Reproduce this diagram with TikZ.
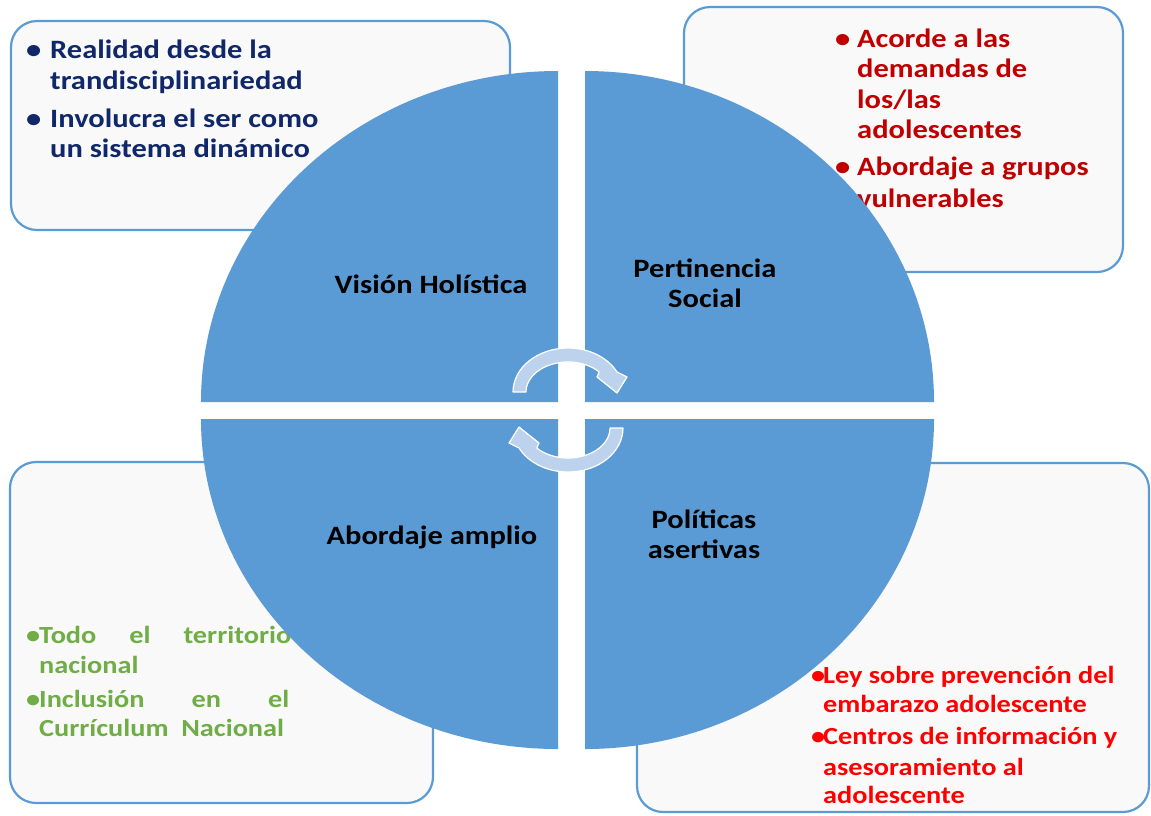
\documentclass[tikz,border=0pt]{standalone}
\usepackage{fontspec}
\setmainfont{Carlito}
\newfontfamily\wf{Carlito}[FakeStretch=1.15]
\usetikzlibrary{calc}
\definecolor{circ}{HTML}{5B9BD5}
\definecolor{boxline}{HTML}{5B9BD5}
\definecolor{boxfill}{HTML}{F9F9F9}
\definecolor{arrowfill}{HTML}{BDD3ED}
\definecolor{navy}{HTML}{10286A}
\definecolor{darkred}{HTML}{C00000}
\definecolor{leaf}{HTML}{70AD47}
\definecolor{brightred}{HTML}{FF0000}
\begin{document}
\begin{tikzpicture}[x=1pt,y=-1pt,
  box/.style={draw=boxline, line width=2.2pt, fill=boxfill, rounded corners=26pt},
  quad/.style={fill=circ},
  cyc/.style={fill=arrowfill, draw=white, line width=1.2pt, line join=round},
  txt/.style={anchor=base west, inner sep=0pt, font=\wf\bfseries\fontsize{26.5}{30}\selectfont},
  txts/.style={anchor=base west, inner sep=0pt, font=\wf\bfseries\fontsize{24.6}{29}\selectfont},
  lbl/.style={anchor=base, inner sep=0pt, font=\wf\bfseries\fontsize{26.5}{30}\selectfont, text=black}]
\clip (0,0) rectangle (1151,815);
\fill[white] (0,0) rectangle (1151,815);
% boxes
\draw[box] (11,21) rectangle (510,230);
\draw[box] (684,7) rectangle (1123,272);
\draw[box] (10,462) rectangle (433,803);
\draw[box] (637,463) rectangle (1149,812);
% top-left text
\node[txt,text=navy] (tlb1) at (26,58) {•};
\node[txt,text=navy] (tl1) at (50,58) {Realidad desde la};
\node[txt,text=navy] (tl2) at (50,89) {trandisciplinariedad};
\node[txt,text=navy] (tlb2) at (26,127) {•};
\node[txt,text=navy] (tl3) at (50,127) {Involucra el ser como};
\node[txt,text=navy] (tl4) at (50,157) {un sistema dinámico};
% top-right text
\node[txt,text=darkred] (trb1) at (835,47) {•};
\node[txt,text=darkred] (tr1) at (857,47) {Acorde a las};
\node[txt,text=darkred] (tr2) at (857,77) {demandas de};
\node[txt,text=darkred] (tr3) at (857,108) {los/las};
\node[txt,text=darkred] (tr4) at (857,138) {adolescentes};
\node[txt,text=darkred] (trb2) at (835,175) {•};
\node[txt,text=darkred] (tr5) at (857,175) {Abordaje a grupos};
\node[txt,text=darkred] (tr6) at (857,207) {vulnerables};
% bottom-left text
\node[txts,text=leaf] (blb1) at (26,643) {•};
\node[txts,text=leaf] (bl1) at (39,643) {\makebox[252pt][s]{Todo el territorio}};
\node[txts,text=leaf] (bl2) at (39,673) {nacional};
\node[txts,text=leaf] (blb2) at (26,707) {•};
\node[txts,text=leaf] (bl3) at (39,707) {\makebox[250pt][s]{Inclusión en el}};
\node[txts,text=leaf] (bl4) at (39,736) {Currículum\ \ Nacional};
% bottom-right text
\node[txts,text=brightred] (brb1) at (811,683) {•};
\node[txts,text=brightred] (br1) at (823,683) {Ley sobre prevención del};
\node[txts,text=brightred] (br2) at (823,712) {embarazo adolescente};
\node[txts,text=brightred] (brb2) at (811,744) {•};
\node[txts,text=brightred] (br3) at (823,744) {Centros de información y};
\node[txts,text=brightred] (br4) at (823,775) {asesoramiento al};
\node[txts,text=brightred] (br5) at (823,803) {adolescente};
% quadrants
\fill[quad] (558,402) -- ++(-357,0) arc[start angle=180,end angle=270,x radius=357,y radius=331] -- cycle;
\fill[quad] (585,402) -- ++(0,-331) arc[start angle=270,end angle=360,x radius=349,y radius=331] -- cycle;
\fill[quad] (585,419) -- ++(349,0) arc[start angle=0,end angle=90,x radius=349,y radius=330] -- cycle;
\fill[quad] (558,419) -- ++(0,330) arc[start angle=90,end angle=180,x radius=357,y radius=330] -- cycle;
% labels
\node[lbl] (q1) at (431,293) {Visión Holística};
\node[lbl] (q2a) at (705,277) {Pertinencia};
\node[lbl] (q2b) at (705,307) {Social};
\node[lbl] (q3) at (432,544) {Abordaje amplio};
\node[lbl] (q4a) at (704,528) {Políticas};
\node[lbl] (q4b) at (704,558) {asertivas};
% circular arrows
\coordinate (cu) at (568,392);
\coordinate (cl) at (568,428);
\path[cyc] ($(cu)+(180:55 and 44)$) arc[start angle=180,end angle=333,x radius=55,y radius=44]
  -- (627,377) -- (617,393) -- (597,377) -- ($(cu)+(318:42 and 30)$)
  arc[start angle=318,end angle=180,x radius=42,y radius=30] -- cycle;
\path[cyc] ($(cl)+(0:55 and 44)$) arc[start angle=0,end angle=153,x radius=55,y radius=44]
  -- (509,443) -- (519,427) -- (539,443) -- ($(cl)+(138:42 and 30)$)
  arc[start angle=138,end angle=0,x radius=42,y radius=30] -- cycle;
\end{tikzpicture}
\end{document}
